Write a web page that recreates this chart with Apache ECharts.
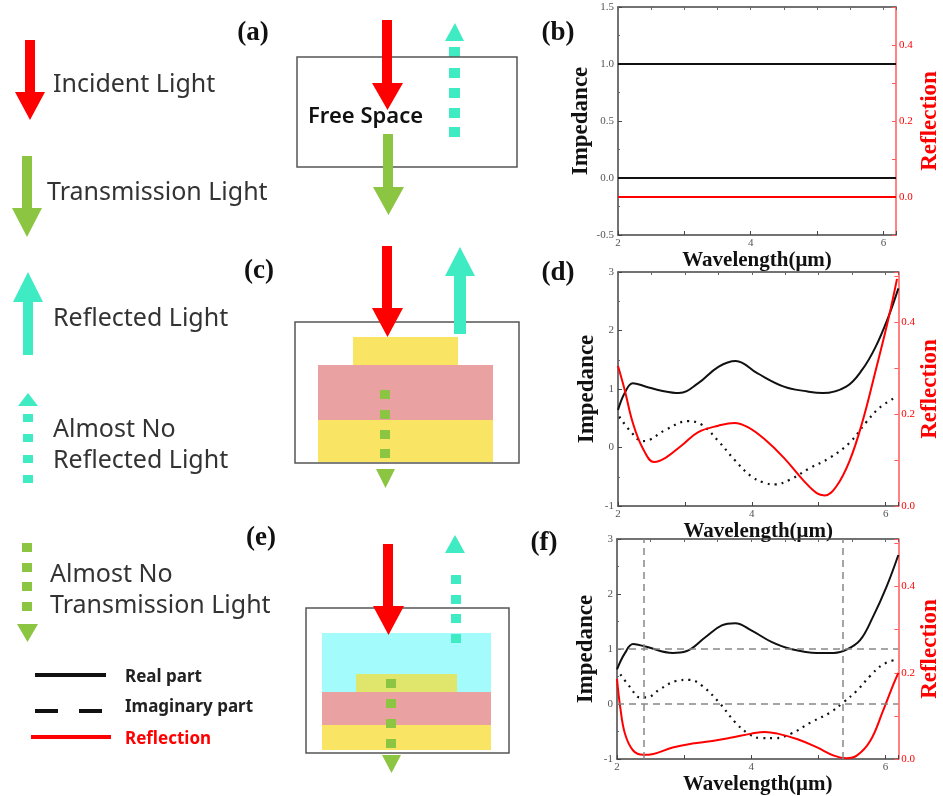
<!DOCTYPE html>
<html><head><meta charset="utf-8">
<script src="https://cdn.jsdelivr.net/npm/echarts/dist/echarts.min.js"></script>
<style>html,body{margin:0;padding:0;background:#fff}#c{width:943px;height:796px}</style>
</head><body><div id="c"></div>
<script>
// ---------------- data ----------------
// panel (b): free space
const bWave = [2.0, 6.19];
const bReal = [1.0, 1.0];
const bImag = [0.0, 0.0];
const bRefl = [0.0, 0.0];

// panel (d)
const dRealWave = [2.0, 2.1, 2.22, 2.42, 2.65, 2.91, 3.2, 3.5, 3.76, 4.08, 4.48, 4.82, 5.06, 5.41, 5.65, 5.85, 6.04, 6.19];
const dReal     = [0.64, 0.93, 1.10, 1.04, 0.97, 0.93, 1.10, 1.38, 1.48, 1.27, 1.04, 0.96, 0.93, 1.04, 1.33, 1.72, 2.23, 2.72];
const dImagWave = [2.02, 2.17, 2.37, 2.47, 2.71, 3.05, 3.25, 3.5, 3.74, 3.99, 4.18, 4.35, 4.57, 4.87, 5.16, 5.46, 5.7, 5.9, 6.12];
const dImag     = [0.53, 0.30, 0.11, 0.13, 0.30, 0.45, 0.39, 0.11, -0.21, -0.49, -0.60, -0.63, -0.55, -0.35, -0.18, 0.08, 0.42, 0.67, 0.84];
const dReflWave = [2.0, 2.1, 2.22, 2.37, 2.54, 2.71, 2.96, 3.2, 3.5, 3.74, 3.94, 4.18, 4.48, 4.77, 4.97, 5.09, 5.26, 5.46, 5.65, 5.85, 6.04, 6.17];
const dRefl     = [0.305, 0.253, 0.182, 0.126, 0.096, 0.105, 0.133, 0.161, 0.175, 0.181, 0.172, 0.147, 0.105, 0.056, 0.028, 0.023, 0.042, 0.098, 0.182, 0.295, 0.407, 0.495];

// panel (f)
const fRealWave = [2.0, 2.12, 2.24, 2.44, 2.83, 3.03, 3.32, 3.56, 3.76, 4.0, 4.3, 4.59, 4.98, 5.23, 5.42, 5.62, 5.81, 6.01, 6.19];
const fReal     = [0.63, 0.93, 1.09, 1.04, 0.93, 0.96, 1.22, 1.43, 1.47, 1.34, 1.13, 1.0, 0.93, 0.93, 0.99, 1.16, 1.58, 2.12, 2.71];
const fImagWave = [2.05, 2.2, 2.34, 2.44, 2.64, 2.88, 3.08, 3.27, 3.52, 3.76, 3.96, 4.15, 4.35, 4.59, 4.89, 5.18, 5.37, 5.57, 5.77, 5.96, 6.16];
const fImag     = [0.54, 0.30, 0.12, 0.12, 0.27, 0.42, 0.44, 0.33, 0.03, -0.33, -0.54, -0.62, -0.62, -0.54, -0.33, -0.15, 0.03, 0.24, 0.51, 0.72, 0.81];
const fReflWave = [2.0, 2.05, 2.12, 2.24, 2.39, 2.54, 2.83, 3.12, 3.42, 3.71, 4.0, 4.2, 4.39, 4.69, 4.98, 5.23, 5.42, 5.57, 5.77, 5.96, 6.11, 6.19];
const fRefl     = [0.186, 0.118, 0.058, 0.020, 0.010, 0.012, 0.027, 0.036, 0.042, 0.050, 0.059, 0.063, 0.059, 0.046, 0.027, 0.008, 0.002, 0.008, 0.042, 0.111, 0.171, 0.2];
const fRefX = [2.4, 5.36];
const fRefY = [0, 1];

// labels
const panelLetters = ['(a)', '(b)', '(c)', '(d)', '(e)', '(f)'];
const legendLabels = ['Real part', 'Imaginary part', 'Reflection'];

// ---------------- helpers ----------------
const SERIF = '"Liberation Serif","DejaVu Serif",serif';
const SANS = '"Noto Sans","Open Sans",sans-serif';
const RED = '#ff0000', GREEN = '#8cc541', CYAN = '#3eebc2';
const zip = (xs, ys) => xs.map((x, i) => [x, ys[i]]);

function xBottom(g, gap) {
  return {
    type: 'value', gridIndex: g, min: 2, max: 6.19, interval: 1, position: 'bottom',
    axisLine: { onZero: false, lineStyle: { color: '#444', width: 1.5 } },
    axisTick: { inside: true, length: 4, lineStyle: { color: '#444' } },
    axisLabel: { margin: 3, fontFamily: SERIF, fontSize: 11, color: '#555',
      formatter: v => (Math.abs(v - Math.round(v)) < 1e-6 && Math.round(v) % 2 === 0) ? String(Math.round(v)) : '' },
    splitLine: { show: false },
    name: 'Wavelength(μm)', nameLocation: 'middle', nameGap: gap,
    nameTextStyle: { fontFamily: SERIF, fontWeight: 'bold', fontSize: 21, color: '#111' }
  };
}
function xTop(g) {
  return {
    type: 'value', gridIndex: g, min: 2, max: 6.19, interval: 0.5, position: 'top',
    axisLine: { onZero: false, lineStyle: { color: '#444', width: 1.5 } },
    axisTick: { inside: true, length: 3, lineStyle: { color: '#666' } },
    axisLabel: { show: false }, splitLine: { show: false }
  };
}
function yLeft(g, min, max, interval, fmt, gap) {
  return {
    type: 'value', gridIndex: g, min, max, interval, position: 'left',
    axisLine: { show: true, onZero: false, lineStyle: { color: '#444', width: 1.5 } },
    axisTick: { show: true, inside: true, length: 4, lineStyle: { color: '#444' } },
    minorTick: { show: true, splitNumber: 2, length: 2, lineStyle: { color: '#666' } },
    axisLabel: { margin: 4, fontFamily: SERIF, fontSize: 11, color: '#555', formatter: fmt },
    splitLine: { show: false },
    name: 'Impedance', nameLocation: 'middle', nameGap: gap,
    nameTextStyle: { fontFamily: SERIF, fontWeight: 'bold', fontSize: 23, color: '#111' }
  };
}
function yRight(g, min, max, gap) {
  return {
    type: 'value', gridIndex: g, min, max, interval: 0.1, position: 'right',
    axisLine: { show: true, onZero: false, lineStyle: { color: '#ff5a5a', width: 1.5 } },
    axisTick: { show: true, inside: true, length: 4, lineStyle: { color: '#ff5a5a' } },
    axisLabel: { margin: 3, fontFamily: SERIF, fontSize: 11, color: RED,
      formatter: v => { const k = Math.round(v * 10); return (Math.abs(v * 10 - k) < 1e-6 && k >= 0 && k % 2 === 0) ? (k / 10).toFixed(1) : ''; } },
    splitLine: { show: false },
    name: 'Reflection', nameLocation: 'middle', nameGap: gap,
    nameTextStyle: { fontFamily: SERIF, fontWeight: 'bold', fontSize: 23, color: RED }
  };
}
function line(xi, yi, data, kind) {
  const s = { type: 'line', xAxisIndex: xi, yAxisIndex: yi, data, showSymbol: false, smooth: 0.4, silent: true, z: 3 };
  if (kind === 'real') s.lineStyle = { color: '#111', width: 2 };
  if (kind === 'imag') s.lineStyle = { color: '#111', width: 2.2, type: [2, 5] };
  if (kind === 'refl') s.lineStyle = { color: RED, width: 2 };
  return s;
}

// ---------------- graphics (diagrams) ----------------
const G = [];
function poly(points, fill) { G.push({ type: 'polygon', shape: { points }, style: { fill }, z: 20 }); }
function rect(x, y, w, h, fill, stroke) {
  G.push({ type: 'rect', shape: { x, y, width: w, height: h },
    style: stroke ? { fill: 'none', stroke, lineWidth: 1.5 } : { fill }, z: stroke ? 15 : 10 });
}
function txt(text, x, y, font, fill, align) {
  G.push({ type: 'text', x, y, z: 25,
    style: { text, font, fill, align: align || 'left', verticalAlign: 'middle', textAlign: align || 'left', textVerticalAlign: 'middle' } });
}
function seg(x1, y1, x2, y2, stroke, w) {
  G.push({ type: 'line', shape: { x1, y1, x2, y2 }, style: { stroke, lineWidth: w, lineCap: 'butt' }, z: 20 });
}
function downArrow(x1, x2, top, hy, hx1, hx2, tip, color) {
  const cx = (hx1 + hx2) / 2;
  poly([[x1, top], [x2, top], [x2, hy], [hx2, hy], [cx, tip], [hx1, hy], [x1, hy]], color);
}
function upArrow(x1, x2, bottom, hy, hx1, hx2, tip, color) {
  const cx = (hx1 + hx2) / 2;
  poly([[cx, tip], [hx2, hy], [x2, hy], [x2, bottom], [x1, bottom], [x1, hy], [hx1, hy]], color);
}
function squares(x, w, ys, h, color) { ys.forEach(y => rect(x, y, w, h, color)); }

const LF = '25px ' + SANS;
// left column legend of arrows
downArrow(25, 35, 40, 92, 15, 45, 120, RED);
txt('Incident Light', 53, 85, LF, '#333');
downArrow(22, 32, 156, 208, 12, 42, 237, GREEN);
txt('Transmission Light', 47, 193, LF, '#333');
upArrow(23, 33, 355, 302, 13, 43, 272, CYAN);
txt('Reflected Light', 53, 319, LF, '#333');
poly([[28, 393], [38, 406], [18, 406]], CYAN);
squares(23, 10, [414, 434, 455, 475], 8, CYAN);
txt('Almost No', 53, 430, LF, '#333');
txt('Reflected Light', 53, 461, LF, '#333');
squares(22, 10, [543, 563, 582, 602], 9, GREEN);
poly([[17, 624], [38, 624], [27.5, 642]], GREEN);
txt('Almost No', 50, 575, LF, '#333');
txt('Transmission Light', 50, 606, LF, '#333');

// line legend
seg(35, 675, 106, 675, '#111', 4);
seg(35, 711, 58, 711, '#111', 4);
seg(79, 711, 102, 711, '#111', 4);
seg(31, 737, 111, 737, RED, 4);
txt(legendLabels[0], 125, 677, 'bold 17px ' + SANS, '#222');
txt(legendLabels[1], 125, 707, 'bold 17px ' + SANS, '#222');
txt(legendLabels[2], 125, 739, 'bold 17px ' + SANS, RED);

// diagram (a)
rect(297, 57, 220, 110, null, '#555');
downArrow(382, 392, 20, 83, 372, 403, 110, RED);
txt('Free Space', 308, 117, '600 22px ' + SANS, '#111');
downArrow(383, 393, 134, 187, 373, 404, 215, GREEN);
poly([[455, 23], [464, 41], [445, 41]], CYAN);
squares(449, 11, [47, 68, 88, 108, 127], 10, CYAN);

// diagram (c)
rect(353, 337, 105, 28, '#fae463');
rect(318, 365, 175, 55, '#eaa1a1');
rect(318, 420, 175, 42, '#fae463');
rect(295, 322, 224, 141, null, '#555');
downArrow(382, 392, 246, 308, 372, 403, 337, RED);
upArrow(454, 466, 334, 276, 445, 475, 247, CYAN);
squares(380, 10, [390, 410, 430, 449], 9, GREEN);
poly([[376, 469], [395, 469], [385.5, 488]], GREEN);

// diagram (e)
rect(322, 633, 169, 59, '#a3fbfc');
rect(356, 674, 101, 18, '#dfe66b');
rect(322, 692, 169, 33, '#eaa1a1');
rect(322, 725, 169, 25, '#fae463');
rect(306, 608, 203, 145, null, '#555');
downArrow(383, 393, 544, 606, 373, 404, 635, RED);
poly([[455, 535], [465, 553], [445, 553]], CYAN);
squares(451, 10, [575, 595, 614, 634], 9, CYAN);
squares(386, 10, [679, 699, 719, 739], 9, GREEN);
poly([[382, 755], [401, 755], [391.5, 773]], GREEN);

// panel letters
const letterPos = [[253, 33], [558, 33], [259, 271], [558, 273], [261, 538], [544, 543]];
panelLetters.forEach((t, i) => txt(t, letterPos[i][0], letterPos[i][1], 'bold 27px ' + SERIF, '#111', 'center'));

// ---------------- chart ----------------
const chart = echarts.init(document.getElementById('c'), null, { renderer: 'canvas' });
const fix1 = v => v.toFixed(1);
const intf = v => String(Math.round(v));
const markRefs = {
  silent: true, symbol: 'none', label: { show: false },
  lineStyle: { color: '#888', width: 1.5, type: [7, 5] },
  data: fRefY.map(v => ({ yAxis: v })).concat(fRefX.map(v => ({ xAxis: v })))
};
const fRealSeries = line(4, 4, zip(fRealWave, fReal), 'real');
fRealSeries.markLine = markRefs;

chart.setOption({
  backgroundColor: '#fff',
  animation: false,
  grid: [
    { left: 618, top: 7, width: 281, height: 228 },
    { left: 618, top: 272, width: 285, height: 234 },
    { left: 617, top: 539, width: 286, height: 224 }
  ],
  xAxis: [
    xBottom(0, 14), xTop(0),
    xBottom(1, 12), xTop(1),
    xBottom(2, 5), xTop(2)
  ],
  yAxis: [
    yLeft(0, -0.5, 1.5, 0.5, fix1, 22), yRight(0, -0.1, 0.5, 23),
    yLeft(1, -1, 3, 1, intf, 19), yRight(1, 0, 0.51, 20),
    yLeft(2, -1, 3, 1, intf, 19), yRight(2, 0, 0.51, 20)
  ],
  series: [
    line(0, 0, zip(bWave, bReal), 'real'),
    line(0, 0, zip(bWave, bImag), 'real'),
    line(0, 1, zip(bWave, bRefl), 'refl'),
    line(2, 2, zip(dRealWave, dReal), 'real'),
    line(2, 2, zip(dImagWave, dImag), 'imag'),
    line(2, 3, zip(dReflWave, dRefl), 'refl'),
    fRealSeries,
    line(4, 4, zip(fImagWave, fImag), 'imag'),
    line(4, 5, zip(fReflWave, fRefl), 'refl')
  ],
  graphic: { elements: G }
});
</script>
</body></html>
